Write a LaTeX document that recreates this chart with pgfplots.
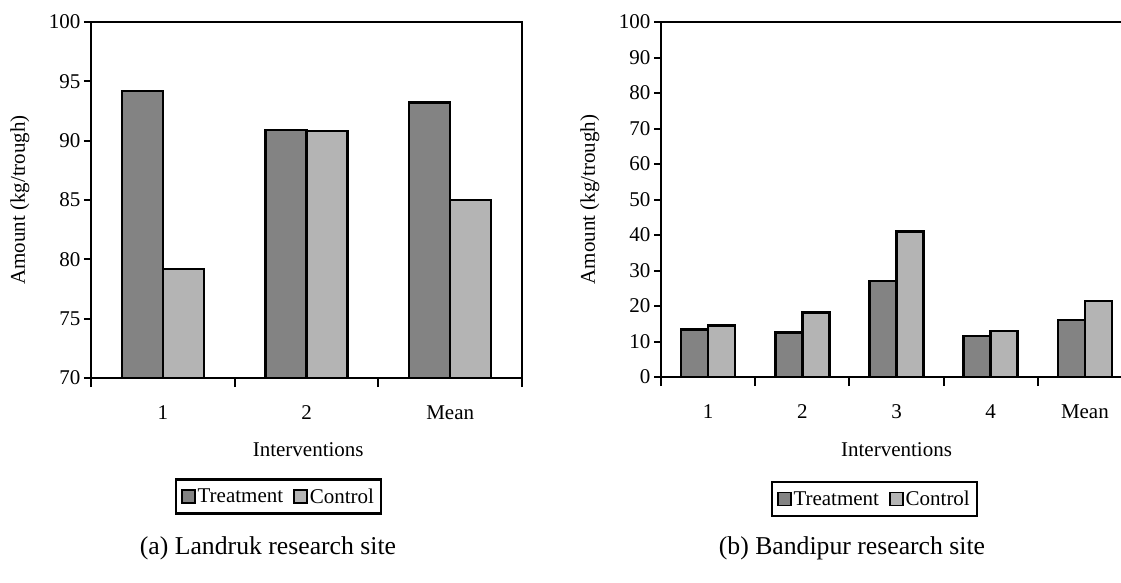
\documentclass[border=0pt]{standalone}
\usepackage{fontspec}
\setmainfont{Liberation Serif}
\usepackage{pgfplots}
\pgfplotsset{compat=1.18}
\newcommand\fs{\fontsize{21}{25}\selectfont}
\newcommand\fc{\fontsize{25.7}{30}\selectfont}
\definecolor{treat}{HTML}{838383}
\definecolor{ctrl}{HTML}{B4B4B4}
\pgfplotsset{
  mybar/.style={
    scale only axis,
    ybar=0pt,
    axis line style={line width=2.6pt},
    every tick/.style={black, line width=2pt},
    tick align=outside,
    ytick pos=left, xtick pos=bottom,
    major tick length=7pt, minor tick length=9pt,
    every major x tick/.append style={draw=none},
    /pgf/number format/assume math mode=true,
    tick label style={font=\fs},
    label style={font=\fs},
    xticklabel style={yshift=-17pt},
    enlarge x limits=false,
    clip=true,
    legend columns=2,
    legend style={anchor=center, draw=black, line width=2.4pt, font=\fs,
      inner xsep=5pt, inner ysep=7pt,
      /tikz/every even column/.append style={column sep=8pt}},
    legend image code/.code={\draw[#1, line width=1.6pt] (0pt,-6.5pt) rectangle (13pt,6.5pt);},
    every axis plot/.append style={draw=black, line width=2.6pt},
  }
}
\begin{document}
\begin{tikzpicture}
\path[use as bounding box] (0,0) rectangle (1121pt,582pt);
\clip (0,0) rectangle (1121pt,582pt);
\begin{axis}[mybar,
  at={(91pt,204pt)}, anchor=south west,
  width=431pt, height=356pt,
  xmin=-0.5, xmax=2.5, ymin=70, ymax=100,
  ytick={70,75,...,100},
  xtick={0,1,2}, xticklabels={1,2,Mean},
  minor xtick={-0.5,0.5,1.5,2.5},
  bar width=41pt,
  xlabel={Interventions},
  ylabel={Amount (kg/trough)},
  xlabel style={at={(axis description cs:0.504,-0.202)}, anchor=center},
  ylabel style={at={(axis description cs:-0.165,0.5)}, anchor=center},
  legend style={at={(0.435,-0.333)}},
]
\addplot[fill=treat] coordinates {(0,94.2) (1,90.9) (2,93.2)};
\addplot[fill=ctrl] coordinates {(0,79.2) (1,90.8) (2,85.0)};
\legend{Treatment,Control}
\end{axis}
\begin{axis}[mybar,
  at={(661pt,205pt)}, anchor=south west,
  width=471pt, height=355pt,
  xmin=-0.5, xmax=4.5, ymin=0, ymax=100,
  ytick={0,10,...,100},
  xtick={0,1,2,3,4}, xticklabels={1,2,3,4,Mean},
  minor xtick={-0.5,0.5,1.5,2.5,3.5,4.5},
  bar width=27pt,
  xlabel={Interventions},
  ylabel={Amount (kg/trough)},
  xlabel style={at={(axis description cs:0.5,-0.206)}, anchor=center},
  ylabel style={at={(axis description cs:-0.151,0.5)}, anchor=center},
  legend style={at={(0.453,-0.344)}},
]
\addplot[fill=treat] coordinates {(0,13.4) (1,12.6) (2,27.0) (3,11.5) (4,16.1)};
\addplot[fill=ctrl] coordinates {(0,14.5) (1,18.1) (2,41.0) (3,13.0) (4,21.4)};
\legend{Treatment,Control}
\end{axis}
\node[font=\fc] at (268pt,34pt) {(a) Landruk research site};
\node[font=\fc] at (852pt,34pt) {(b) Bandipur research site};
\end{tikzpicture}
\end{document}
